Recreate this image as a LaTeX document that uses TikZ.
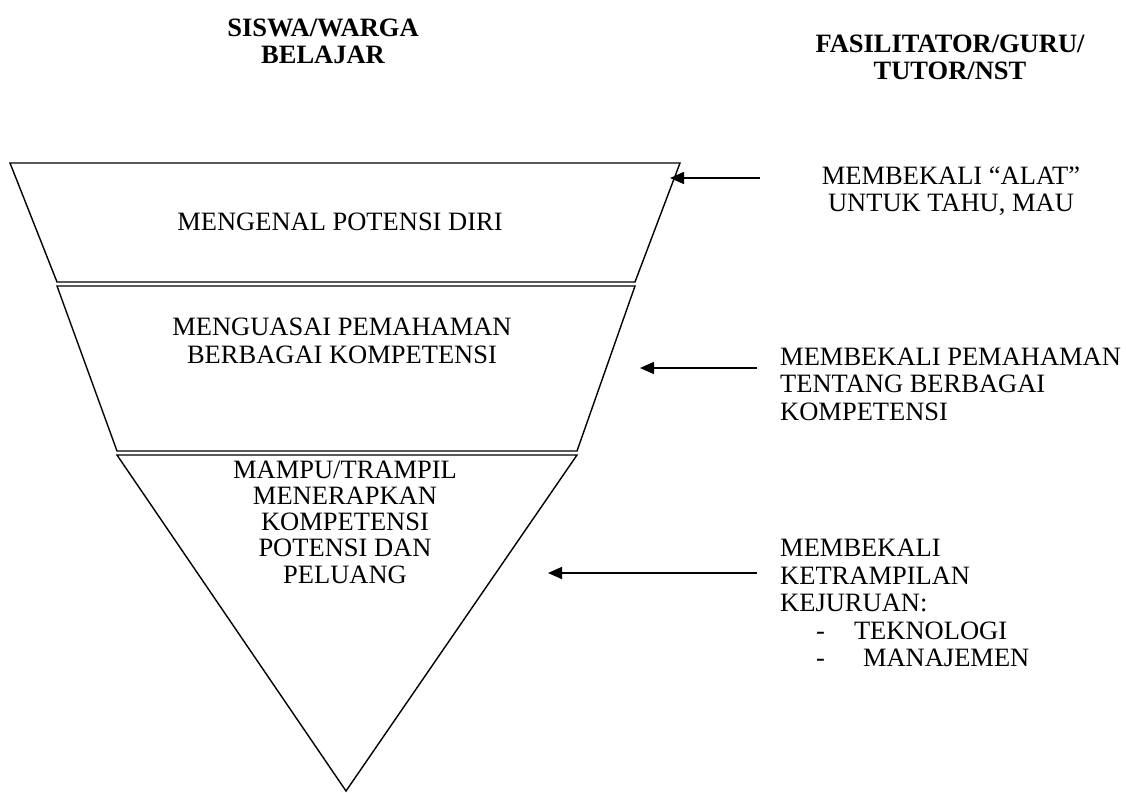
\documentclass[tikz,border=0pt]{standalone}
\usepackage{fontspec}
\setmainfont{Liberation Serif}
\usetikzlibrary{arrows.meta}
\begin{document}
\begin{tikzpicture}[x=1pt,y=-1pt,
  every node/.style={inner sep=0pt,font=\fontsize{26.5}{27.5}\selectfont},
  shapeline/.style={draw=black,line width=1.4pt,line join=miter},
  arr/.style={draw=black,line width=1.6pt,-{Triangle[length=14pt,width=12pt]}},
  head/.style={align=center,font=\fontsize{26.5}{27}\selectfont\bfseries}]
\useasboundingbox (0,0) rectangle (1126,792);
% shapes
\draw[shapeline] (10,163) -- (680,163) -- (635,282) -- (57,282) -- cycle;
\draw[shapeline] (57,286) -- (635,286) -- (577,451) -- (117,451) -- cycle;
\draw[shapeline] (117,455) -- (577,455) -- (346,791) -- cycle;
% headings
\node[head] (h1) at (323,41) {SISWA/WARGA\\BELAJAR};
\node[head] (h2) at (950,57) {FASILITATOR/GURU/\\TUTOR/NST};
% left texts
\node (t1) at (340,222) {MENGENAL POTENSI DIRI};
\node[align=center] (t2) at (342,341) {MENGUASAI PEMAHAMAN\\BERBAGAI KOMPETENSI};
\node[align=center,font=\fontsize{26.5}{26.3}\selectfont] (t3) at (345,522) {MAMPU/TRAMPIL\\MENERAPKAN\\KOMPETENSI\\POTENSI DAN\\PELUANG};
% right texts
\node[align=center] (r1) at (951,191) {MEMBEKALI “ALAT”\\UNTUK TAHU, MAU};
\node[align=left,anchor=west] (r2) at (780,384) {MEMBEKALI PEMAHAMAN\\TENTANG BERBAGAI\\KOMPETENSI};
\node[align=left,anchor=west] (r3) at (780,603) {MEMBEKALI\\KETRAMPILAN\\KEJURUAN:\\\hspace*{36pt}-\hspace*{29pt}TEKNOLOGI\\\hspace*{36pt}-\hspace*{38pt}MANAJEMEN};
% arrows
\coordinate (a1s) at (760,178); \coordinate (a1e) at (670,178);
\coordinate (a2s) at (757,368); \coordinate (a2e) at (640,368);
\coordinate (a3s) at (757,573); \coordinate (a3e) at (548,573);
\draw[arr] (a1s) -- (a1e);
\draw[arr] (a2s) -- (a2e);
\draw[arr] (a3s) -- (a3e);
\end{tikzpicture}
\end{document}
